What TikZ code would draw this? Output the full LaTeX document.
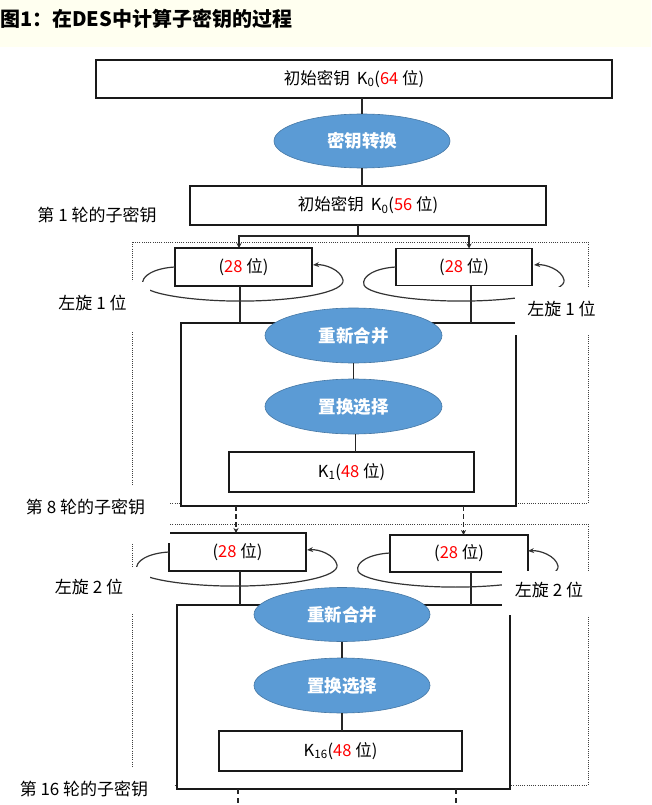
\documentclass[tikz,border=0pt]{standalone}
\usepackage{fontspec}
\setmainfont{Noto Sans CJK SC}
\usetikzlibrary{arrows.meta,shapes.geometric}
\definecolor{ellblue}{RGB}{91,155,213}
\definecolor{ellborder}{RGB}{70,120,165}
\definecolor{bandyellow}{RGB}{255,255,240}
\definecolor{numred}{RGB}{255,0,0}
\newcommand{\myloop}[2]{%
  \begin{scope}[shift={(#1,#2)}]
    \draw[looparr] (175,267) .. controls (155,268) and (140,276) .. (143,285)
      .. controls (147,295) and (200,302) .. (250,301)
      .. controls (300,300) and (345,292) .. (343,280)
      .. controls (341,270) and (325,264) .. (313,265);
  \end{scope}}
\begin{document}
\begin{tikzpicture}[x=1pt,y=-1pt,
  every node/.style={inner sep=0pt,outer sep=0pt,font=\fontsize{16.5}{19}\selectfont},
  rect/.style={draw=black!90,line width=1.3pt,fill=white,rectangle},
  ell/.style={ellipse,fill=ellblue,draw=ellborder,line width=0.6pt,text=white,font=\fontsize{17.5}{20}\selectfont\bfseries},
  conn/.style={line width=1.2pt,draw=black!85},
  dots/.style={line width=0.9pt,dash pattern=on 1pt off 1.2pt,draw=black!75},
  arr/.style={conn,-{Stealth[length=5pt,width=5pt]}},
  darr/.style={conn,dash pattern=on 5pt off 3pt,-{Stealth[length=5pt,width=5pt]}},
  looparr/.style={line width=1.2pt,draw=black!80,-{Stealth[length=6pt,width=5pt]}},
  lbl/.style={font=\fontsize{17}{20}\selectfont},
  cover/.style={fill=white}
]
\useasboundingbox (0,0) rectangle (651,805);
% title band
\fill[bandyellow] (0,0) rectangle (651,47);
\node[anchor=west,font=\fontsize{20}{23}\selectfont\bfseries] (title) at (0,19) {图1：在DES中计算子密钥的过程};

% dotted round frames
\draw[dots] (132,242) rectangle (588,503);
\draw[dots] (132,524) rectangle (588,785);

% solid frames
\node[rect,minimum width=335,minimum height=183] (frame1) at (348.5,414.5) {};
\node[rect,minimum width=333,minimum height=184] (frame2) at (343.5,697) {};

% boxes
\node[rect,minimum width=516,minimum height=38] (box1) at (354,79) {初始密钥\hspace{7pt}K\textsubscript{0}(\textcolor{numred}{64} 位)};
\node[ell,minimum width=176,minimum height=54] (ell1) at (362,141) {密钥转换};
\node[rect,minimum width=356,minimum height=39] (box2) at (368,205.5) {初始密钥\hspace{7pt}K\textsubscript{0}(\textcolor{numred}{56} 位)};
\node[rect,minimum width=137,minimum height=38] (l1) at (243.5,267) {(\textcolor{numred}{28} 位)};
\node[rect,minimum width=136,minimum height=37] (r1) at (464,267) {(\textcolor{numred}{28} 位)};
\node[rect,minimum width=245,minimum height=40] (k1) at (351.5,472) {K\textsubscript{1}(\textcolor{numred}{48} 位)};
\node[rect,minimum width=137,minimum height=38] (l2) at (237.5,552) {(\textcolor{numred}{28} 位)};
\node[rect,minimum width=138,minimum height=37] (r2) at (459,553.5) {(\textcolor{numred}{28} 位)};
\node[rect,minimum width=243,minimum height=40] (k2) at (340.5,751) {K\textsubscript{16}(\textcolor{numred}{48} 位)};

% connectors top
\draw[conn] (ell1.north |- box1.south) -- (ell1.north);
\draw[conn] (ell1.south) -- (ell1.south |- box2.north);
\coordinate (split) at (358,236);
\draw[conn] (split |- box2.south) -- (split);
\draw[arr] (split) -| ([xshift=-4.5pt]l1.north);
\draw[arr] (split) -| ([xshift=5pt]r1.north);

% round 1 connectors
\draw[conn] ([xshift=-3.5pt]l1.south) -- ([xshift=-3.5pt]l1.south |- frame1.north);
\draw[conn] ([xshift=7pt]r1.south) -- ([xshift=7pt]r1.south |- frame1.north);
% round 2 connectors
\draw[conn] ([xshift=2.5pt]l2.south) -- ([xshift=2.5pt]l2.south |- frame2.north);
\draw[conn] ([xshift=12pt]r2.south) -- ([xshift=12pt]r2.south |- frame2.north);
% between rounds
\draw[darr] ([xshift=-1.5pt]l2.north |- frame1.south) -- ([xshift=-1.5pt]l2.north);
\draw[darr] ([xshift=4.5pt]r2.north |- frame1.south) -- ([xshift=4.5pt]r2.north);
% bottom continuation
\coordinate (end1) at (238,805);
\coordinate (end2) at (456,805);
\draw[conn,dash pattern=on 5pt off 4pt] (end1 |- frame2.south) -- (end1);
\draw[conn,dash pattern=on 5pt off 4pt] (end2 |- frame2.south) -- (end2);

% rotation loops
\myloop{0}{0}
\myloop{221}{0}
\myloop{-6}{285}
\myloop{215}{286}

% white covers behind labels
\fill[cover] (40,282) rectangle (150,332);
\fill[cover] (515,287) rectangle (612,335);
\fill[cover] (10,485) rectangle (170,543);
\fill[cover] (40,567) rectangle (150,613);
\fill[cover] (502,570.5) rectangle (612,615);
\fill[cover] (0,768) rectangle (173.5,805);

% inner ellipses
\node[ell,minimum width=177,minimum height=55] (merge1) at (353.5,335.5) {重新合并};
\node[ell,minimum width=177,minimum height=55] (pc1) at (353.5,406.5) {置换选择};
\node[ell,minimum width=176,minimum height=54] (merge2) at (342,614.5) {重新合并};
\node[ell,minimum width=176,minimum height=55] (pc2) at (342,685.5) {置换选择};
\draw[conn] (merge1.south) -- (pc1.north);
\draw[conn] ([xshift=2pt]pc1.south) -- ([xshift=2pt]pc1.south |- k1.north);
\draw[conn] (merge2.south) -- (pc2.north);
\draw[conn] (pc2.south) -- (pc2.south |- k2.north);

% labels
\node[lbl] (lab1) at (97,215) {第 1 轮的子密钥};
\node[lbl] (rot1l) at (92.5,303) {左旋 1 位};
\node[lbl] (rot1r) at (561.5,309) {左旋 1 位};
\node[lbl] (lab8) at (85.5,507) {第 8 轮的子密钥};
\node[lbl] (rot2l) at (89,587) {左旋 2 位};
\node[lbl] (rot2r) at (549,590) {左旋 2 位};
\node[lbl] (lab16) at (84,789) {第 16 轮的子密钥};
\end{tikzpicture}
\end{document}
